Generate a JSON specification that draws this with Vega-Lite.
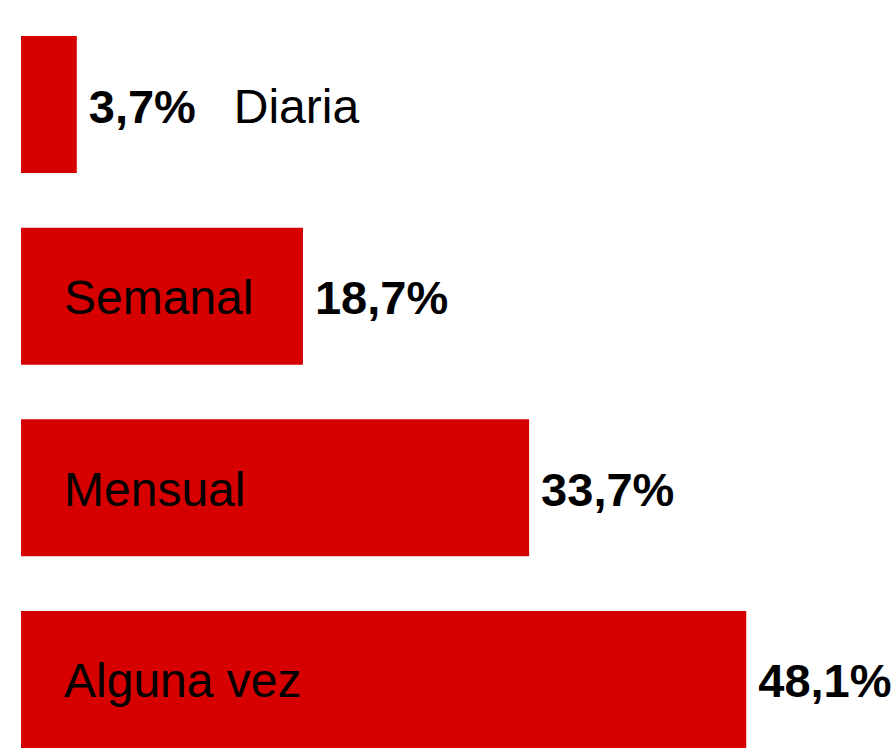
{
  "$schema": "https://vega.github.io/schema/vega-lite/v6.json",
  "width": 873,
  "height": 712,
  "autosize": {"type": "none"},
  "padding": {"left": 21, "top": 36, "right": 0, "bottom": 0},
  "background": "white",
  "config": {"view": {"stroke": null}},
  "data": {
    "values": [
      {"cat": "Diaria", "value": 3.7, "label": "3,7%", "inside": false},
      {"cat": "Semanal", "value": 18.7, "label": "18,7%", "inside": true},
      {"cat": "Mensual", "value": 33.7, "label": "33,7%", "inside": true},
      {"cat": "Alguna vez", "value": 48.1, "label": "48,1%", "inside": true}
    ]
  },
  "encoding": {
    "y": {
      "field": "cat",
      "type": "nominal",
      "sort": null,
      "axis": null,
      "scale": {"paddingInner": 0.285, "paddingOuter": 0}
    }
  },
  "layer": [
    {
      "mark": {"type": "bar", "color": "#d70000"},
      "encoding": {
        "x": {"field": "value", "type": "quantitative", "axis": null, "scale": {"domain": [0, 57.9], "nice": false}}
      }
    },
    {
      "mark": {"type": "text", "align": "left", "baseline": "alphabetic", "dx": 12, "dy": 18, "font": "Liberation Sans", "fontSize": 47, "fontWeight": "bold", "color": "black"},
      "encoding": {
        "x": {"field": "value", "type": "quantitative"},
        "text": {"field": "label"}
      }
    },
    {
      "transform": [{"filter": "datum.inside"}],
      "mark": {"type": "text", "align": "left", "baseline": "alphabetic", "dx": 43, "dy": 18, "font": "Liberation Sans", "fontSize": 48, "color": "black"},
      "encoding": {
        "x": {"datum": 0, "type": "quantitative"},
        "text": {"field": "cat"}
      }
    },
    {
      "transform": [{"filter": "!datum.inside"}],
      "mark": {"type": "text", "align": "left", "baseline": "alphabetic", "dx": 157, "dy": 18, "font": "Liberation Sans", "fontSize": 48, "color": "black"},
      "encoding": {
        "x": {"field": "value", "type": "quantitative"},
        "text": {"field": "cat"}
      }
    }
  ]
}
